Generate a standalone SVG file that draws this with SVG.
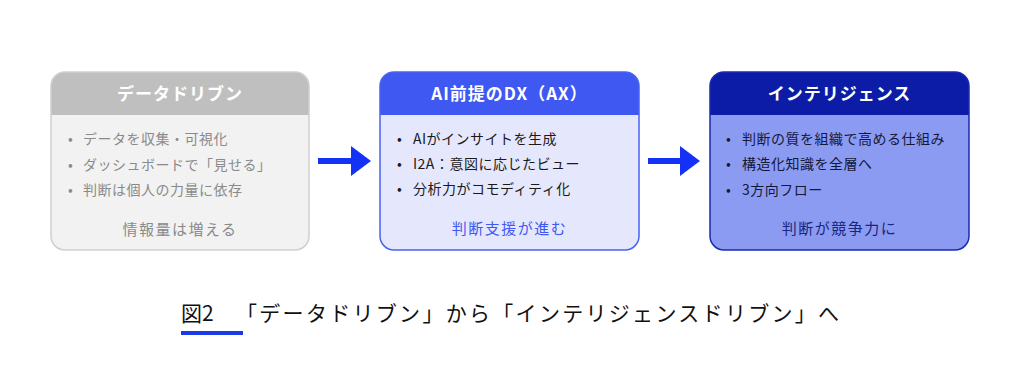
<svg xmlns="http://www.w3.org/2000/svg" width="1024" height="389" viewBox="0 0 1024 389">
<style>
text{font-family:"Noto Sans CJK JP","Noto Sans",sans-serif}
.title{font-size:17px;font-weight:700;fill:#fff;text-anchor:middle;letter-spacing:1px}
.item{font-size:14px;letter-spacing:0.5px}
.foot{font-size:15px;text-anchor:middle;letter-spacing:1.5px}
.cap{font-size:21px;fill:#111}
</style>
<defs>
<marker id="ah" viewBox="0 0 20 30" refX="0" refY="15" markerWidth="20" markerHeight="30" markerUnits="userSpaceOnUse" orient="auto"><path d="M0,0 L20,15 L0,30 Z" fill="#1432f5"/></marker>
</defs>
<rect width="1024" height="389" fill="#fff"/>
<g id="node-data">
<rect x="51" y="72" width="258" height="178" rx="14" fill="#f2f2f2"/>
<path d="M51,115 V86 A14,14 0 0 1 65,72 H295 A14,14 0 0 1 309,86 V115 Z" fill="#bfbfbf"/>
<rect x="51" y="72" width="258" height="178" rx="14" fill="none" stroke="#cfcfcf" stroke-width="1.5"/>
<text class="title" x="180" y="100">データドリブン</text>
<g fill="#8a8a8a" class="item">
<text x="68" y="144">•</text><text x="83" y="144">データを収集・可視化</text>
<text x="68" y="170">•</text><text x="83" y="170">ダッシュボードで「見せる」</text>
<text x="68" y="195">•</text><text x="83" y="195">判断は個人の力量に依存</text>
</g>
<text class="foot" x="180" y="235" fill="#8a8a8a">情報量は増える</text>
</g>
<g id="node-ax">
<rect x="380" y="72" width="259" height="178" rx="14" fill="#e5e8fc"/>
<path d="M380,115 V86 A14,14 0 0 1 394,72 H625 A14,14 0 0 1 639,86 V115 Z" fill="#3f58f2"/>
<rect x="380" y="72" width="259" height="178" rx="14" fill="none" stroke="#4a62f2" stroke-width="1.5"/>
<text class="title" x="509.5" y="100">AI前提のDX（AX）</text>
<g fill="#1a1a1a" class="item">
<text x="397" y="144">•</text><text x="413" y="144">AIがインサイトを生成</text>
<text x="397" y="169">•</text><text x="413" y="169">I2A：意図に応じたビュー</text>
<text x="397" y="194">•</text><text x="413" y="194">分析力がコモディティ化</text>
</g>
<text class="foot" x="509.5" y="234" fill="#3f58f2">判断支援が進む</text>
</g>
<g id="node-intel">
<rect x="710" y="72" width="259" height="178" rx="14" fill="#8c9bf2"/>
<path d="M710,115 V86 A14,14 0 0 1 724,72 H955 A14,14 0 0 1 969,86 V115 Z" fill="#0c1ca6"/>
<rect x="710" y="72" width="259" height="178" rx="14" fill="none" stroke="#1a2ab0" stroke-width="1.5"/>
<text class="title" x="839.5" y="100">インテリジェンス</text>
<g fill="#141838" class="item">
<text x="726" y="144">•</text><text x="742" y="144">判断の質を組織で高める仕組み</text>
<text x="726" y="169">•</text><text x="742" y="169">構造化知識を全層へ</text>
<text x="726" y="195">•</text><text x="742" y="195">3方向フロー</text>
</g>
<text class="foot" x="839.5" y="234" fill="#1a2580">判断が競争力に</text>
</g>
<g id="connectors" stroke="#1432f5" stroke-width="6" fill="none">
<line x1="318" y1="161" x2="351" y2="161" marker-end="url(#ah)"/>
<line x1="648" y1="161" x2="680" y2="161" marker-end="url(#ah)"/>
</g>
<g id="caption">
<text class="cap" x="181" y="321">図2</text>
<text class="cap" x="236" y="321" letter-spacing="2.3">「データドリブン」から「インテリジェンスドリブン」へ</text>
<rect x="181" y="331" width="62" height="4" fill="#1a3ae8"/>
</g>
</svg>
